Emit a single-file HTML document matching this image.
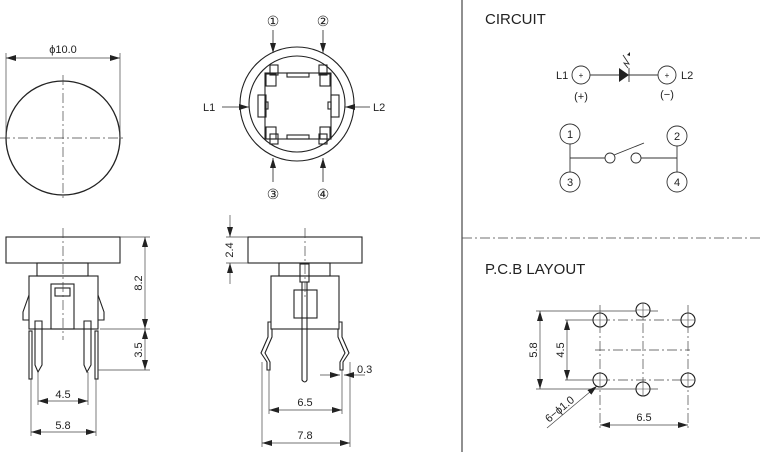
<!DOCTYPE html><html><head><style>body{margin:0;background:#fff}svg{display:block}text{font-family:"Liberation Sans",sans-serif;fill:#222}</style></head><body>
<svg width="760" height="452" viewBox="0 0 760 452" xmlns="http://www.w3.org/2000/svg">
<defs><marker id="a" viewBox="0 0 10 6" refX="10" refY="3" markerWidth="10" markerHeight="6" orient="auto-start-reverse" markerUnits="userSpaceOnUse"><path d="M0,0L10,3L0,6z" fill="#222"/></marker></defs>
<g stroke="#222" fill="none" stroke-width="1.3">
<circle cx="63" cy="138" r="57"/>
</g>
<g stroke="#444" stroke-width="0.7" fill="none">
<line x1="0" y1="138" x2="125" y2="138" stroke-dasharray="10,3,2,3"/>
<line x1="63" y1="75" x2="63" y2="200" stroke-dasharray="10,3,2,3"/>
<line x1="6" y1="53" x2="6" y2="138"/><line x1="120" y1="53" x2="120" y2="138"/>
<line x1="6" y1="58" x2="120" y2="58" marker-start="url(#a)" marker-end="url(#a)"/>
</g>
<text x="63" y="53" font-size="11" text-anchor="middle">ϕ10.0</text>

<g stroke="#222" fill="none" stroke-width="1.1">
<circle cx="297" cy="104" r="57"/><circle cx="297" cy="104" r="48"/>
<rect x="265" y="73" width="66" height="66"/>
<rect x="270" y="65" width="8" height="10"/><rect x="319" y="65" width="8" height="10"/>
<rect x="270" y="134" width="8" height="10"/><rect x="319" y="134" width="8" height="10"/>
<rect x="266" y="74" width="10" height="12"/><rect x="320" y="74" width="10" height="12"/>
<rect x="266" y="127" width="10" height="12"/><rect x="320" y="127" width="10" height="12"/>
<rect x="287" y="73" width="22" height="4"/><rect x="287" y="135" width="22" height="4"/>
<rect x="258" y="95" width="8" height="22"/><rect x="331" y="95" width="8" height="22"/>
<rect x="265" y="102" width="3" height="7"/><rect x="328" y="102" width="3" height="7"/>
</g>
<g stroke="#222" stroke-width="0.8">
<line x1="273" y1="30" x2="273" y2="53" marker-end="url(#a)"/>
<line x1="323" y1="30" x2="323" y2="53" marker-end="url(#a)"/>
<line x1="273" y1="182" x2="273" y2="158" marker-end="url(#a)"/>
<line x1="323" y1="182" x2="323" y2="158" marker-end="url(#a)"/>
<line x1="222" y1="107" x2="249" y2="107" marker-end="url(#a)"/>
<line x1="370" y1="107" x2="345" y2="107" marker-end="url(#a)"/>
</g>
<g font-size="14" text-anchor="middle"><text x="273" y="26">①</text><text x="323" y="26">②</text><text x="273" y="199">③</text><text x="323" y="199">④</text></g>
<text x="203" y="111" font-size="11">L1</text><text x="373" y="111" font-size="11">L2</text>

<g stroke="#222" fill="none" stroke-width="1.1">
<rect x="6" y="237" width="114" height="26"/>
<rect x="37" y="263" width="51" height="13"/>
<rect x="29" y="276" width="69" height="53"/>
<rect x="51" y="284" width="23" height="45"/><rect x="55" y="288" width="15" height="8"/>
<path d="M29,295 L23,312 L23,320 L29,320"/><path d="M98,295 L104,312 L104,320 L98,320"/>
<path d="M35,321 L42,321 L42,365 L38,372 L35,365 Z"/><path d="M84,321 L91,321 L91,365 L87,372 L84,365 Z"/>
<rect x="29" y="331" width="3" height="48"/><rect x="95" y="331" width="3" height="48"/>
</g>
<g stroke="#444" stroke-width="0.7" fill="none">
<line x1="63" y1="228" x2="63" y2="340" stroke-dasharray="10,3,2,3"/>
<line x1="120" y1="237" x2="150" y2="237"/><line x1="100" y1="329" x2="150" y2="329"/><line x1="98" y1="370" x2="150" y2="370"/>
<line x1="145" y1="237" x2="145" y2="329" marker-start="url(#a)" marker-end="url(#a)"/>
<line x1="145" y1="329" x2="145" y2="370" marker-start="url(#a)" marker-end="url(#a)"/>
<line x1="38" y1="372" x2="38" y2="405"/><line x1="88" y1="372" x2="88" y2="405"/>
<line x1="31" y1="379" x2="31" y2="436"/><line x1="96" y1="379" x2="96" y2="436"/>
<line x1="38" y1="401" x2="88" y2="401" marker-start="url(#a)" marker-end="url(#a)"/>
<line x1="31" y1="432" x2="96" y2="432" marker-start="url(#a)" marker-end="url(#a)"/>
</g>
<text x="63" y="398" font-size="11" text-anchor="middle">4.5</text>
<text x="63" y="429" font-size="11" text-anchor="middle">5.8</text>
<text font-size="11" text-anchor="middle" transform="translate(142,283) rotate(-90)">8.2</text>
<text font-size="11" text-anchor="middle" transform="translate(142,350) rotate(-90)">3.5</text>

<g stroke="#222" fill="none" stroke-width="1.1">
<rect x="248" y="237" width="114" height="26"/>
<rect x="279" y="263" width="51" height="13"/>
<rect x="271" y="276" width="68" height="53"/>
<rect x="294" y="290" width="23" height="28"/>
<rect x="300" y="264" width="9" height="18"/>
<path d="M302,282 L302,380 Q305,384 307,380 L307,282"/>
<path d="M271,322 L268,322 L268,337 L261,353 L267,362 L267,370 L270,370 L270,362 L265,353 L272,337 L272,329"/>
<path d="M339,322 L342,322 L342,337 L349,353 L343,362 L343,370 L340,370 L340,362 L345,353 L338,337 L338,329"/>
</g>
<g stroke="#444" stroke-width="0.7" fill="none">
<line x1="305" y1="228" x2="305" y2="300" stroke-dasharray="10,3,2,3"/>
<line x1="226" y1="237" x2="248" y2="237"/><line x1="226" y1="263" x2="248" y2="263"/>
<line x1="230" y1="215" x2="230" y2="237" marker-end="url(#a)"/>
<line x1="230" y1="284" x2="230" y2="263" marker-end="url(#a)"/>
<line x1="269" y1="370" x2="269" y2="414"/><line x1="342" y1="370" x2="342" y2="414"/>
<line x1="262" y1="362" x2="262" y2="447"/><line x1="350" y1="362" x2="350" y2="447"/>
<line x1="269" y1="410" x2="342" y2="410" marker-start="url(#a)" marker-end="url(#a)"/>
<line x1="262" y1="443" x2="350" y2="443" marker-start="url(#a)" marker-end="url(#a)"/>
<line x1="320" y1="375" x2="340" y2="375" marker-end="url(#a)"/>
<line x1="365" y1="375" x2="344" y2="375" marker-end="url(#a)"/>
</g>
<text x="305" y="406" font-size="11" text-anchor="middle">6.5</text>
<text x="305" y="439" font-size="11" text-anchor="middle">7.8</text>
<text x="357" y="373" font-size="11">0.3</text>
<text font-size="11" text-anchor="middle" transform="translate(233,250) rotate(-90)">2.4</text>

<line x1="462" y1="0" x2="462" y2="452" stroke="#222" stroke-width="1"/>
<line x1="462" y1="238" x2="760" y2="238" stroke="#444" stroke-width="0.8" stroke-dasharray="10,3,2,3"/>

<text x="485" y="24" font-size="15">CIRCUIT</text>
<g stroke="#333" fill="none" stroke-width="0.9">
<circle cx="581" cy="75" r="9"/><circle cx="667" cy="75" r="9"/>
<line x1="590" y1="75" x2="658" y2="75"/>
<line x1="629" y1="68" x2="629" y2="82"/>
<path d="M623,55 L629,64 L624,63 L628,68"/>
<circle cx="570" cy="134" r="10"/><circle cx="677" cy="136" r="10"/>
<circle cx="570" cy="182" r="10"/><circle cx="677" cy="182" r="10"/>
<line x1="570" y1="144" x2="570" y2="172"/><line x1="677" y1="146" x2="677" y2="172"/>
<line x1="570" y1="158" x2="605" y2="158"/><line x1="641" y1="158" x2="677" y2="158"/>
<circle cx="610" cy="158" r="5"/><circle cx="636" cy="158" r="5"/>
<line x1="614" y1="155" x2="644" y2="143"/>
</g>
<path d="M619,68 L629,75 L619,82z" fill="#222"/>
<path d="M627,55 L630,52 L630,56z" fill="#222"/>
<g font-size="11" text-anchor="middle">
<text x="581" y="78" font-size="8">+</text><text x="667" y="78" font-size="8">+</text>
<text x="581" y="100">(+)</text><text x="667" y="98">(−)</text>
<text x="570" y="138">1</text><text x="677" y="140">2</text><text x="570" y="186">3</text><text x="677" y="186">4</text>
</g>
<text x="556" y="79" font-size="11">L1</text><text x="681" y="79" font-size="11">L2</text>

<text x="485" y="274" font-size="15">P.C.B LAYOUT</text>
<g stroke="#444" stroke-width="0.7" fill="none">
<line x1="600" y1="320" x2="688" y2="320" stroke-dasharray="10,3,2,3"/>
<line x1="600" y1="380" x2="688" y2="380" stroke-dasharray="10,3,2,3"/>
<line x1="595" y1="350" x2="690" y2="350" stroke-dasharray="10,3,2,3"/>
<line x1="600" y1="305" x2="600" y2="428" stroke-dasharray="10,3,2,3"/>
<line x1="643" y1="305" x2="643" y2="395" stroke-dasharray="10,3,2,3"/>
<line x1="688" y1="305" x2="688" y2="428" stroke-dasharray="10,3,2,3"/>
<line x1="536" y1="311" x2="658" y2="311"/><line x1="536" y1="389" x2="658" y2="389"/>
<line x1="565" y1="320" x2="593" y2="320"/><line x1="565" y1="380" x2="593" y2="380"/>
<line x1="540" y1="311" x2="540" y2="389" marker-start="url(#a)" marker-end="url(#a)"/>
<line x1="567" y1="320" x2="567" y2="380" marker-start="url(#a)" marker-end="url(#a)"/>
<line x1="600" y1="425" x2="688" y2="425" marker-start="url(#a)" marker-end="url(#a)"/>
<line x1="547" y1="428" x2="597" y2="386" marker-end="url(#a)"/>
</g>
<g stroke="#222" stroke-width="1.1" fill="#fff">
<circle cx="600" cy="320" r="7"/><circle cx="643" cy="310" r="7"/><circle cx="688" cy="320" r="7"/>
<circle cx="600" cy="380" r="7"/><circle cx="643" cy="389" r="7"/><circle cx="688" cy="380" r="7"/>
</g>
<g stroke="#444" stroke-width="0.6">
<path d="M600,313V327M593,320H607M643,303V317M636,310H650M688,313V327M681,320H695M600,373V387M593,380H607M643,382V396M636,389H650M688,373V387M681,380H695"/>
</g>
<text x="644" y="421" font-size="11" text-anchor="middle">6.5</text>
<text font-size="11" text-anchor="middle" transform="translate(537,350) rotate(-90)">5.8</text>
<text font-size="11" text-anchor="middle" transform="translate(564,350) rotate(-90)">4.5</text>
<text font-size="11" text-anchor="middle" transform="translate(562,412) rotate(-40)">6−ϕ1.0</text>
</svg></body></html>
